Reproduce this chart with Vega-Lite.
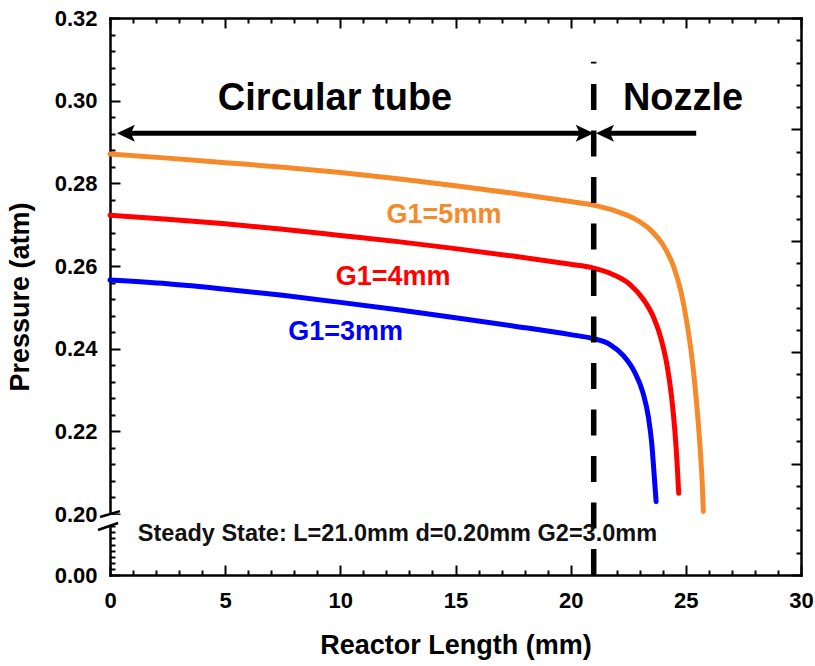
{
  "$schema": "https://vega.github.io/schema/vega-lite/v6.json",
  "width": 691,
  "height": 557,
  "autosize": "none",
  "padding": {"left": 110, "top": 18, "right": 14, "bottom": 91},
  "background": "white",
  "config": {
    "view": {"stroke": null},
    "axis": {
      "grid": false,
      "domainColor": "black",
      "domainWidth": 2.5,
      "domainCap": "square",
      "tickColor": "black",
      "tickWidth": 2,
      "labelFont": "Liberation Sans",
      "labelFontWeight": "bold",
      "labelFontSize": 22,
      "labelColor": "black",
      "labelFlush": false,
      "labelOverlap": false,
      "titleFont": "Liberation Sans",
      "titleFontWeight": "bold",
      "titleFontSize": 27,
      "titleColor": "black"
    }
  },
  "resolve": {
    "scale": {"y": "independent"},
    "axis": {"x": "independent", "y": "independent"}
  },
  "layer": [
    {
      "data": {
        "values": [
          {"series": "G1=5mm", "x": 0, "p": 0.2871},
          {"series": "G1=5mm", "x": 2.5, "p": 0.2861},
          {"series": "G1=5mm", "x": 5, "p": 0.2850},
          {"series": "G1=5mm", "x": 7.5, "p": 0.2839},
          {"series": "G1=5mm", "x": 10, "p": 0.2826},
          {"series": "G1=5mm", "x": 12.5, "p": 0.2811},
          {"series": "G1=5mm", "x": 15, "p": 0.2794},
          {"series": "G1=5mm", "x": 17.5, "p": 0.2776},
          {"series": "G1=5mm", "x": 20, "p": 0.2756},
          {"series": "G1=5mm", "x": 20.92, "p": 0.2748},
          {"series": "G1=5mm", "x": 21.85, "p": 0.2735},
          {"series": "G1=5mm", "x": 22.72, "p": 0.2716},
          {"series": "G1=5mm", "x": 23.45, "p": 0.2688},
          {"series": "G1=5mm", "x": 24.02, "p": 0.2650},
          {"series": "G1=5mm", "x": 24.46, "p": 0.2600},
          {"series": "G1=5mm", "x": 24.78, "p": 0.2540},
          {"series": "G1=5mm", "x": 25.04, "p": 0.2465},
          {"series": "G1=5mm", "x": 25.25, "p": 0.2385},
          {"series": "G1=5mm", "x": 25.41, "p": 0.2303},
          {"series": "G1=5mm", "x": 25.54, "p": 0.2220},
          {"series": "G1=5mm", "x": 25.645, "p": 0.2139},
          {"series": "G1=5mm", "x": 25.725, "p": 0.2059},
          {"series": "G1=5mm", "x": 25.76, "p": 0.2006},
          {"series": "G1=4mm", "x": 0, "p": 0.2723},
          {"series": "G1=4mm", "x": 2.5, "p": 0.2713},
          {"series": "G1=4mm", "x": 5, "p": 0.2702},
          {"series": "G1=4mm", "x": 7.5, "p": 0.2689},
          {"series": "G1=4mm", "x": 10, "p": 0.2674},
          {"series": "G1=4mm", "x": 12.5, "p": 0.2659},
          {"series": "G1=4mm", "x": 15, "p": 0.2642},
          {"series": "G1=4mm", "x": 17.5, "p": 0.2624},
          {"series": "G1=4mm", "x": 20, "p": 0.2604},
          {"series": "G1=4mm", "x": 20.92, "p": 0.2596},
          {"series": "G1=4mm", "x": 21.85, "p": 0.2579},
          {"series": "G1=4mm", "x": 22.58, "p": 0.2555},
          {"series": "G1=4mm", "x": 23.16, "p": 0.2519},
          {"series": "G1=4mm", "x": 23.59, "p": 0.2477},
          {"series": "G1=4mm", "x": 23.94, "p": 0.2421},
          {"series": "G1=4mm", "x": 24.19, "p": 0.2358},
          {"series": "G1=4mm", "x": 24.38, "p": 0.2284},
          {"series": "G1=4mm", "x": 24.52, "p": 0.2204},
          {"series": "G1=4mm", "x": 24.62, "p": 0.2124},
          {"series": "G1=4mm", "x": 24.69, "p": 0.2050},
          {"series": "G1=3mm", "x": 0, "p": 0.2566},
          {"series": "G1=3mm", "x": 2.5, "p": 0.2557},
          {"series": "G1=3mm", "x": 5, "p": 0.2544},
          {"series": "G1=3mm", "x": 7.5, "p": 0.2529},
          {"series": "G1=3mm", "x": 10, "p": 0.2512},
          {"series": "G1=3mm", "x": 12.5, "p": 0.2494},
          {"series": "G1=3mm", "x": 15, "p": 0.2475},
          {"series": "G1=3mm", "x": 17.5, "p": 0.2455},
          {"series": "G1=3mm", "x": 20, "p": 0.2434},
          {"series": "G1=3mm", "x": 20.92, "p": 0.2425},
          {"series": "G1=3mm", "x": 21.71, "p": 0.2410},
          {"series": "G1=3mm", "x": 22.29, "p": 0.2383},
          {"series": "G1=3mm", "x": 22.78, "p": 0.2343},
          {"series": "G1=3mm", "x": 23.14, "p": 0.2293},
          {"series": "G1=3mm", "x": 23.37, "p": 0.2236},
          {"series": "G1=3mm", "x": 23.52, "p": 0.2171},
          {"series": "G1=3mm", "x": 23.62, "p": 0.2099},
          {"series": "G1=3mm", "x": 23.71, "p": 0.2030}
        ]
      },
      "mark": {"type": "line", "strokeWidth": 5, "interpolate": "monotone", "strokeCap": "round"},
      "encoding": {
        "x": {
          "field": "x", "type": "quantitative",
          "scale": {"domain": [0, 30], "nice": false, "zero": false},
          "axis": {"orient": "bottom", "values": [0, 5, 10, 15, 20, 25, 30], "tickSize": -10, "labelPadding": 25, "title": "Reactor Length (mm)", "titlePadding": 21}
        },
        "y": {
          "field": "p", "type": "quantitative",
          "scale": {"type": "linear", "domain": [0, 0.2, 0.32], "range": [557, 496, 0], "nice": false, "zero": false},
          "axis": {"orient": "left", "values": [0, 0.2, 0.22, 0.24, 0.26, 0.28, 0.3, 0.32], "format": ".2f", "tickSize": -10, "labelPadding": 23, "title": "Pressure (atm)", "titlePadding": 20}
        },
        "color": {
          "field": "series", "type": "nominal",
          "scale": {"domain": ["G1=3mm", "G1=4mm", "G1=5mm"], "range": ["#0000FF", "#FF0000", "#F68A2B"]},
          "legend": null
        }
      }
    },
    {
      "data": {"values": [{"x": 21, "p_start": 0, "p_end": 0.3094}]},
      "mark": {"type": "rule", "color": "black", "strokeWidth": 5.5, "strokeDash": [26, 20.5]},
      "encoding": {
        "x": {
          "field": "x", "type": "quantitative",
          "scale": {"domain": [0, 30], "nice": false, "zero": false},
          "axis": {"orient": "bottom", "values": [1, 2, 3, 4, 6, 7, 8, 9, 11, 12, 13, 14, 16, 17, 18, 19, 21, 22, 23, 24, 26, 27, 28, 29], "tickSize": -5, "labels": false, "domain": false, "title": null}
        },
        "y": {
          "field": "p_start", "type": "quantitative",
          "scale": {"type": "linear", "domain": [0, 0.2, 0.32], "range": [557, 496, 0], "nice": false, "zero": false},
          "axis": {"orient": "left", "values": [0.02, 0.04, 0.06, 0.08, 0.1, 0.12, 0.14, 0.16, 0.18, 0.204, 0.208, 0.212, 0.216, 0.224, 0.228, 0.232, 0.236, 0.244, 0.248, 0.252, 0.256, 0.264, 0.268, 0.272, 0.276, 0.284, 0.288, 0.292, 0.296, 0.304, 0.308, 0.312, 0.316], "tickSize": -5, "labels": false, "domain": false, "title": null}
        },
        "y2": {"field": "p_end"}
      }
    },
    {
      "data": {
        "values": [
          {"arrow": "Circular tube", "x0": 0.6, "x1": 20.6, "p": 0.2921},
          {"arrow": "Nozzle", "x0": 21.6, "x1": 25.45, "p": 0.2921}
        ]
      },
      "mark": {"type": "rule", "color": "black", "strokeWidth": 5},
      "encoding": {
        "x": {
          "field": "x0", "type": "quantitative",
          "scale": {"domain": [0, 30], "nice": false, "zero": false},
          "axis": {"orient": "top", "values": [0, 5, 10, 15, 20, 25, 30], "tickSize": -10, "labels": false, "title": null}
        },
        "x2": {"field": "x1"},
        "y": {
          "field": "p", "type": "quantitative",
          "scale": {"type": "linear", "domain": [0, 0.2, 0.32], "range": [557, 496, 0], "nice": false, "zero": false},
          "axis": null
        }
      }
    },
    {
      "data": {
        "values": [
          {"x": 0.3, "p": 0.2921, "dir": "left"},
          {"x": 21.0, "p": 0.2921, "dir": "right"},
          {"x": 21.1, "p": 0.2921, "dir": "left"}
        ]
      },
      "mark": {"type": "point", "filled": true, "color": "black", "opacity": 1, "size": 324, "strokeWidth": 0},
      "encoding": {
        "x": {
          "field": "x", "type": "quantitative",
          "scale": {"domain": [0, 30], "nice": false, "zero": false},
          "axis": {"orient": "top", "values": [1, 2, 3, 4, 6, 7, 8, 9, 11, 12, 13, 14, 16, 17, 18, 19, 21, 22, 23, 24, 26, 27, 28, 29], "tickSize": -5, "labels": false, "domain": false, "title": null}
        },
        "y": {
          "field": "p", "type": "quantitative",
          "scale": {"type": "linear", "domain": [0, 0.2, 0.32], "range": [557, 496, 0], "nice": false, "zero": false},
          "axis": null
        },
        "shape": {
          "field": "dir", "type": "nominal",
          "scale": {"domain": ["left", "right"], "range": ["M0,0L2,-0.95L1.55,0L2,0.95Z", "M0,0L-2,-0.95L-1.55,0L-2,0.95Z"]},
          "legend": null
        }
      }
    },
    {
      "data": {"values": [{"x0": -0.5, "x1": 0.55, "p0": 0.161, "p1": 0.197}]},
      "mark": {"type": "rect", "color": "white"},
      "encoding": {
        "x": {"field": "x0", "type": "quantitative", "scale": {"domain": [0, 30], "nice": false, "zero": false}, "axis": null},
        "x2": {"field": "x1"},
        "y": {"field": "p0", "type": "quantitative", "scale": {"type": "linear", "domain": [0, 0.2, 0.32], "range": [557, 496, 0], "nice": false, "zero": false}, "axis": null},
        "y2": {"field": "p1"}
      }
    },
    {
      "data": {
        "values": [
          {"mark": "upper", "x0": -0.43, "x1": 0.43, "p0": 0.1902, "p1": 0.2007},
          {"mark": "lower", "x0": -0.52, "x1": 0.35, "p0": 0.1475, "p1": 0.1705}
        ]
      },
      "mark": {"type": "rule", "color": "black", "strokeWidth": 2.5},
      "encoding": {
        "x": {"field": "x0", "type": "quantitative", "scale": {"domain": [0, 30], "nice": false, "zero": false}, "axis": null},
        "x2": {"field": "x1"},
        "y": {"field": "p0", "type": "quantitative", "scale": {"type": "linear", "domain": [0, 0.2, 0.32], "range": [557, 496, 0], "nice": false, "zero": false}, "axis": null},
        "y2": {"field": "p1"}
      }
    },
    {
      "data": {
        "values": [
          {"series": "G1=5mm", "x": 14.5, "p": 0.2705},
          {"series": "G1=4mm", "x": 12.29, "p": 0.2554},
          {"series": "G1=3mm", "x": 10.23, "p": 0.2421}
        ]
      },
      "mark": {"type": "text", "font": "Liberation Sans", "fontWeight": "bold", "fontSize": 27, "align": "center", "baseline": "alphabetic"},
      "encoding": {
        "x": {"field": "x", "type": "quantitative", "scale": {"domain": [0, 30], "nice": false, "zero": false}, "axis": null},
        "y": {"field": "p", "type": "quantitative", "scale": {"type": "linear", "domain": [0, 0.2, 0.32], "range": [557, 496, 0], "nice": false, "zero": false}, "axis": null},
        "text": {"field": "series"},
        "color": {"field": "series", "type": "nominal", "legend": null}
      }
    },
    {
      "data": {
        "values": [
          {"label": "Circular tube", "x": 9.77, "p": 0.2978},
          {"label": "Nozzle", "x": 24.88, "p": 0.2978}
        ]
      },
      "mark": {"type": "text", "font": "Liberation Sans", "fontWeight": "bold", "fontSize": 38, "align": "center", "baseline": "alphabetic", "color": "black"},
      "encoding": {
        "x": {"field": "x", "type": "quantitative", "scale": {"domain": [0, 30], "nice": false, "zero": false}, "axis": null},
        "y": {"field": "p", "type": "quantitative", "scale": {"type": "linear", "domain": [0, 0.2, 0.32], "range": [557, 496, 0], "nice": false, "zero": false}, "axis": null},
        "text": {"field": "label"}
      }
    },
    {
      "data": {"values": [{"label": "Steady State: L=21.0mm d=0.20mm G2=3.0mm", "x": 12.48, "p": 0.1115}]},
      "mark": {"type": "text", "font": "Liberation Sans", "fontWeight": "bold", "fontSize": 23.5, "align": "center", "baseline": "alphabetic", "color": "#111111"},
      "encoding": {
        "x": {"field": "x", "type": "quantitative", "scale": {"domain": [0, 30], "nice": false, "zero": false}, "axis": null},
        "y": {"field": "p", "type": "quantitative", "scale": {"type": "linear", "domain": [0, 0.2, 0.32], "range": [557, 496, 0], "nice": false, "zero": false}, "axis": null},
        "text": {"field": "label"}
      }
    },
    {
      "data": {"values": [{"r": 0}, {"r": 5}]},
      "mark": {"type": "point", "opacity": 0},
      "encoding": {
        "y": {
          "field": "r", "type": "quantitative",
          "scale": {"domain": [0, 5], "nice": false, "zero": false},
          "axis": {"orient": "right", "values": [0, 1, 2, 3, 4, 5], "tickSize": -10, "labels": false, "title": null}
        }
      }
    },
    {
      "data": {"values": [{"r": 0}, {"r": 5}]},
      "mark": {"type": "point", "opacity": 0},
      "encoding": {
        "y": {
          "field": "r", "type": "quantitative",
          "scale": {"domain": [0, 5], "nice": false, "zero": false},
          "axis": {"orient": "right", "values": [0.2, 0.4, 0.6, 0.8, 1.2, 1.4, 1.6, 1.8, 2.2, 2.4, 2.6, 2.8, 3.2, 3.4, 3.6, 3.8, 4.2, 4.4, 4.6, 4.8], "tickSize": -5, "labels": false, "domain": false, "title": null}
        }
      }
    }
  ]
}
